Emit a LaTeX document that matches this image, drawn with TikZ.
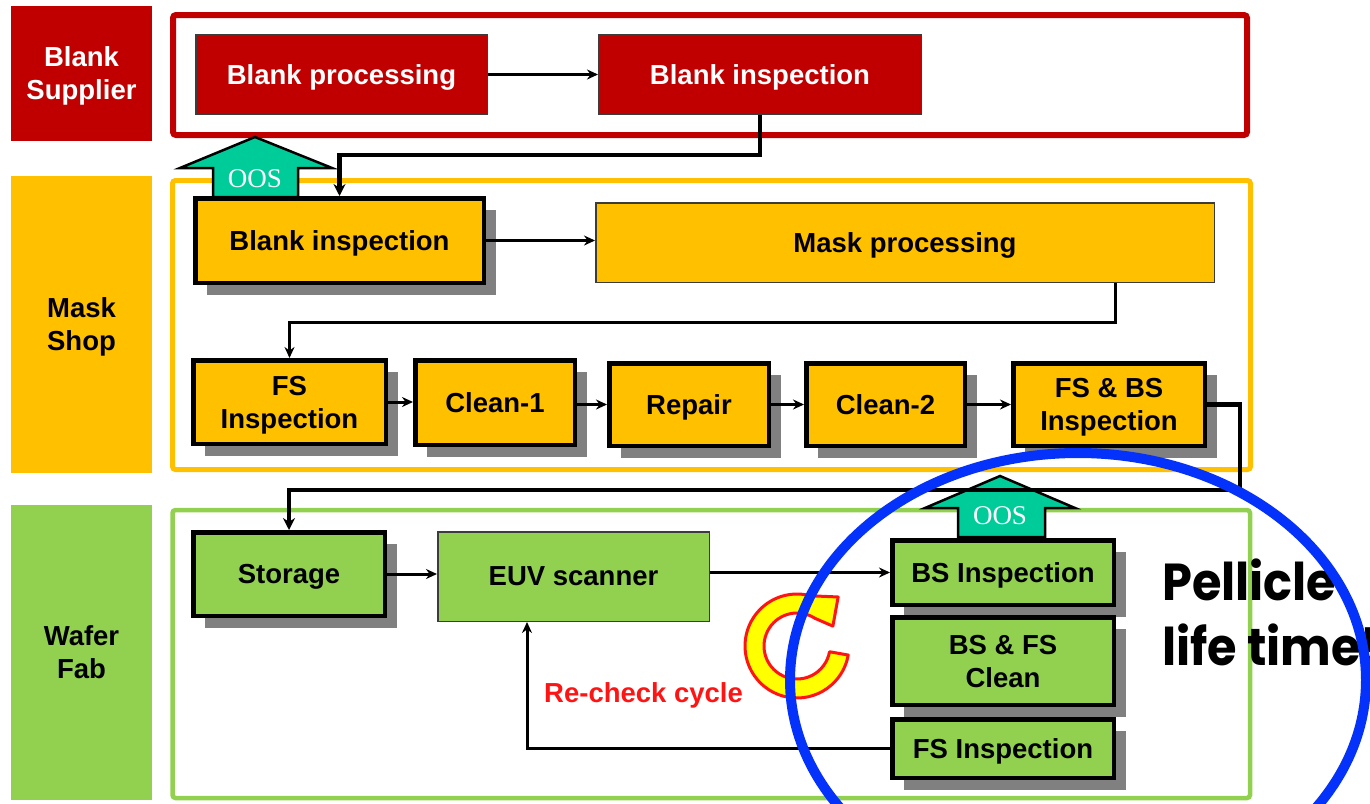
\documentclass[tikz,border=0pt]{standalone}
\usepackage{fontspec}
\setmainfont{Liberation Sans}
\newfontfamily\oosfont{Liberation Serif}
\newfontfamily\pelfont{Poppins}[FakeStretch=0.92]
\usetikzlibrary{shadows,arrows.meta}

\definecolor{supred}{RGB}{192,0,0}
\definecolor{shopyel}{RGB}{255,192,0}
\definecolor{fabgreen}{RGB}{146,208,80}
\definecolor{oosteal}{RGB}{0,204,153}
\definecolor{shadowgray}{RGB}{128,128,128}
\definecolor{ringblue}{RGB}{5,50,250}
\definecolor{cyclered}{RGB}{255,20,20}
\definecolor{cycleyel}{RGB}{255,255,0}
\definecolor{edgegray}{RGB}{60,60,60}

\begin{document}
\begin{tikzpicture}[x=1pt,y=-1pt,
  boxfont/.style={font=\bfseries\fontsize{27.5}{33}\selectfont},
  zone/.style={boxfont, align=center, inner sep=0, text depth=0pt, minimum width=141pt},
  proc/.style={boxfont, align=center, inner sep=0, text depth=0pt},
  flatbox/.style={proc, draw=edgegray, line width=1.5},
  raisedbox/.style={proc, draw=black, line width=4.5,
    drop shadow={shadow xshift=12pt, shadow yshift=-12pt, fill=shadowgray, opacity=1}},
  conn/.style={draw=black, line width=3, -{Stealth[length=11pt,width=10pt]}},
  thickconn/.style={draw=black, line width=4.5, -{Stealth[length=12pt,width=12pt]}},
  oosarrow/.style={fill=oosteal, draw=black, line width=2.5, line join=miter},
  oostext/.style={font=\oosfont\fontsize{27}{30}\selectfont, text=white, inner sep=0},
  pelstyle/.style={anchor=base west, inner sep=0, font=\pelfont\bfseries\fontsize{52}{65}\selectfont},
  frame/.style={line width=#1, rounded corners=3}]

\useasboundingbox (0,0) rectangle (1370,803);
\clip (0,0) rectangle (1370,803);

% organisation labels on the left
\node[zone, fill=supred, text=white, minimum height=135pt] (zsup) at (81.5,73.5) {Blank\\Supplier};
\node[zone, fill=shopyel, minimum height=297pt] (zshop) at (81.5,324.5) {Mask\\Shop};
\node[zone, fill=fabgreen, minimum height=295pt] (zfab) at (81.5,652.5) {Wafer\\Fab};

% frames around each organisation
\draw[frame=6, supred] (173,15) rectangle (1247,135);
\draw[frame=5, shopyel] (172.5,180.5) rectangle (1250.5,469.5);
\draw[frame=4.5, fabgreen] (172.5,510) rectangle (1250,798);

% out-of-spec return arrows
\draw[oosarrow] (213,197) -- (213,168) -- (180,168) -- (255,137) -- (332,168) -- (298,168) -- (298,197) -- cycle;
\draw[oosarrow] (958,537) -- (958,508) -- (925,508) -- (1000,476) -- (1075,508) -- (1045,508) -- (1045,537) -- cycle;
\node[oostext] (oos1) at (255,178.5) {OOS};
\node[oostext] (oos2) at (1000,516) {OOS};

% blank supplier
\node[flatbox, fill=supred, text=white, minimum width=291.5pt, minimum height=79.5pt] (bp) at (341.5,74.5) {Blank processing};
\node[flatbox, fill=supred, text=white, minimum width=322.5pt, minimum height=79.5pt] (bi1) at (760,74.5) {Blank inspection};

% mask shop
\node[raisedbox, fill=shopyel, minimum width=288.5pt, minimum height=84.5pt] (bi2) at (339.5,240.5) {Blank inspection};
\node[flatbox, fill=shopyel, minimum width=618.5pt, minimum height=79.5pt] (mp) at (905,242.5) {Mask processing};
\node[raisedbox, fill=shopyel, minimum width=192.5pt, minimum height=83.5pt] (fsi) at (289.5,402) {FS\\Inspection};
\node[raisedbox, fill=shopyel, minimum width=159.5pt, minimum height=84.5pt] (c1) at (495,402.5) {Clean-1};
\node[raisedbox, fill=shopyel, minimum width=159.5pt, minimum height=82.5pt] (rep) at (689,404.5) {Repair};
\node[raisedbox, fill=shopyel, minimum width=158.5pt, minimum height=82.5pt] (c2) at (885.5,404.5) {Clean-2};
\node[raisedbox, fill=shopyel, minimum width=191.5pt, minimum height=82.5pt] (fsbs) at (1109,404.5) {FS \& BS\\Inspection};

% wafer fab
\node[raisedbox, fill=fabgreen, minimum width=191.5pt, minimum height=83.5pt] (st) at (289,574) {Storage};
\node[flatbox, fill=fabgreen, minimum width=271.5pt, minimum height=89.5pt] (euv) at (573.5,576.5) {EUV scanner};
\node[raisedbox, fill=fabgreen, minimum width=221.5pt, minimum height=64.5pt] (bsi) at (1003,572.5) {BS Inspection};
\node[raisedbox, fill=fabgreen, minimum width=221.5pt, minimum height=87.5pt] (bsfc) at (1003,661) {BS \& FS\\Clean};
\node[raisedbox, fill=fabgreen, minimum width=221.5pt, minimum height=58.5pt] (fsi2) at (1003,748.5) {FS Inspection};

% bend points of the long connectors
\coordinate (supdrop) at (760,155);
\coordinate (mpdrop) at (1115,322);
\coordinate (shopdrop) at (1240,490);

% process flow
\draw[conn] (bp.east) -- (bi1.west);
\draw[thickconn] (bi1.south) -- (supdrop) -| (bi2.north);
\draw[conn] (bi2.east) -- (bi2.east -| mp.west);
\draw[conn] (mpdrop |- mp.south) -- (mpdrop) -| (fsi.north);
\draw[conn] (fsi.east) -- (fsi.east -| c1.west);
\draw[conn] (c1.east |- rep.west) -- (rep.west);
\draw[conn] (rep.east) -- (c2.west);
\draw[conn] (c2.east) -- (fsbs.west);
\draw[thickconn] (fsbs.east) -| (shopdrop) -| (st.north);
\draw[conn] (st.east) -- (st.east -| euv.west);
\draw[conn] (euv.east |- bsi.west) -- (bsi.west);
\draw[conn] (fsi2.west) -| ([xshift=-46.5pt]euv.south);

% re-check cycle symbol
\draw[cyclered, fill=cycleyel, line width=3, line join=round]
  ([shift={(797,646)}]10:52) arc[start angle=10, end angle=285, radius=52]
  -- ([shift={(797,646)}]310:64) -- ([shift={(797,646)}]331:41)
  -- ([shift={(797,646)}]303:33) arc[start angle=303, end angle=10, radius=33] -- cycle;
\node[anchor=base west, inner sep=0, text=cyclered, boxfont] (recheck) at (544,702) {Re-check cycle};

% pellicle remark
\node[pelstyle] (pel1) at (1162,600) {Pellicle};
\node[pelstyle] (pel2) at (1162,665) {life time!};

% highlight ring
\draw[ringblue, line width=10] (1078,680) ellipse [x radius=288, y radius=227];

\end{tikzpicture}
\end{document}
